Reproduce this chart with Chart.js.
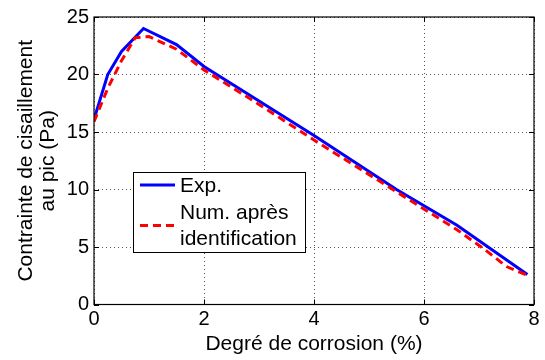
<!DOCTYPE html>
<html>
<head>
<meta charset="utf-8">
<script src="https://cdn.jsdelivr.net/npm/chart.js@4"></script>
<style>
  body { margin: 0; background: #fff; }
  #chart { display: block; }
</style>
</head>
<body>
<canvas id="chart" width="545" height="360"></canvas>
<script>
// values
const xExp = [0, 0.25, 0.5, 0.9, 1.5, 2, 3, 4, 5.5, 6.6, 7.88]
const yExp = [16.1, 20.0, 22.0, 24.0, 22.6, 20.7, 17.7, 14.7, 10.0, 6.9, 2.6]

const xNum = [0, 0.25, 0.5, 0.75, 1.0, 1.5, 2, 3, 4, 5.5, 6.6, 7.1, 7.5, 7.85]
const yNum = [15.9, 18.8, 21.2, 23.2, 23.3, 22.2, 20.4, 17.4, 14.3, 9.8, 6.5, 4.8, 3.3, 2.6]

const xTicks = [0, 2, 4, 6, 8]
const yTicks = [0, 5, 10, 15, 20, 25]

const labelExp = "Exp."
const labelNum = ["Num. après", "identification"]
const xTitle = "Degré de corrosion (%)"
const yTitle = ["Contrainte de cisaillement", "au pic (Pa)"]

const FONT = "'Liberation Sans', Arial, sans-serif"

function toPoints(xs, ys) {
    const pts = []
    for (let i = 0; i < xs.length; i++) {
        pts.push({ x: xs[i], y: ys[i] })
    }
    return pts
}

// box, inside ticks and legend like the matlab figure
const matlabFrame = {
    id: "matlabFrame",
    afterDatasetsDraw(chart) {
        const ctx = chart.ctx
        const a = chart.chartArea
        const xs = chart.scales.x
        const ys = chart.scales.y
        ctx.save()
        ctx.strokeStyle = "#000"
        ctx.lineWidth = 1
        ctx.setLineDash([])
        ctx.beginPath()
        for (let v of xTicks) {
            const px = Math.round(xs.getPixelForValue(v)) + 0.5
            ctx.moveTo(px, a.bottom); ctx.lineTo(px, a.bottom - 5)
            ctx.moveTo(px, a.top); ctx.lineTo(px, a.top + 5)
        }
        for (let v of yTicks) {
            const py = Math.round(ys.getPixelForValue(v)) + 0.5
            ctx.moveTo(a.left, py); ctx.lineTo(a.left + 5, py)
            ctx.moveTo(a.right, py); ctx.lineTo(a.right - 5, py)
        }
        ctx.stroke()
        ctx.lineWidth = 1.2
        ctx.strokeRect(a.left, a.top, a.right - a.left, a.bottom - a.top)
        ctx.restore()
    },
    afterDraw(chart) {
        const ctx = chart.ctx
        const ds = chart.data.datasets
        ctx.save()
        ctx.fillStyle = "#fff"
        ctx.fillRect(133, 172, 172, 80)
        ctx.strokeStyle = "#000"
        ctx.lineWidth = 1
        ctx.strokeRect(133.5, 172.5, 172, 80)

        ctx.lineWidth = ds[1].borderWidth
        ctx.strokeStyle = ds[1].borderColor
        ctx.beginPath(); ctx.moveTo(140, 185); ctx.lineTo(175, 185); ctx.stroke()

        ctx.lineWidth = ds[0].borderWidth
        ctx.strokeStyle = ds[0].borderColor
        ctx.setLineDash(ds[0].borderDash)
        ctx.beginPath(); ctx.moveTo(140, 225.5); ctx.lineTo(176, 225.5); ctx.stroke()
        ctx.setLineDash([])

        ctx.fillStyle = "#000"
        ctx.font = "21px " + FONT
        ctx.textBaseline = "middle"
        ctx.textAlign = "left"
        ctx.fillText(labelExp, 180, 186)
        ctx.fillText(labelNum[0], 180, 213)
        ctx.fillText(labelNum[1], 180, 239)
        ctx.restore()
    }
}

const config = {
    type: "line",
    data: {
        datasets: [
            {
                label: labelNum.join(" "),
                data: toPoints(xNum, yNum),
                borderColor: "#ff0000",
                borderWidth: 3,
                borderDash: [8, 5],
                pointRadius: 0,
                tension: 0,
                fill: false,
                order: 0
            },
            {
                label: labelExp,
                data: toPoints(xExp, yExp),
                borderColor: "#0000ff",
                borderWidth: 3,
                pointRadius: 0,
                tension: 0,
                fill: false,
                order: 1
            }
        ]
    },
    options: {
        responsive: false,
        animation: false,
        layout: { padding: { top: 14, right: 11, left: 0, bottom: 0 } },
        plugins: {
            legend: { display: false },
            tooltip: { enabled: false }
        },
        scales: {
            x: {
                type: "linear",
                min: 0,
                max: 8,
                afterBuildTicks(scale) { scale.ticks = xTicks.map(v => ({ value: v })) },
                afterFit(scale) { scale.height = 55.5 },
                grid: { color: "#555", lineWidth: 1, drawTicks: false },
                border: { display: false, dash: [1, 3] },
                ticks: {
                    color: "#000",
                    padding: 3,
                    font: { family: FONT, size: 20, lineHeight: 1.2 }
                },
                title: {
                    display: true,
                    text: xTitle,
                    color: "#000",
                    padding: { top: 0, bottom: 5 },
                    font: { family: FONT, size: 21, lineHeight: 1.05 }
                }
            },
            y: {
                type: "linear",
                min: 0,
                max: 25,
                afterBuildTicks(scale) { scale.ticks = yTicks.map(v => ({ value: v })) },
                afterFit(scale) { scale.width = 94 },
                grid: { color: "#555", lineWidth: 1, drawTicks: false },
                border: { display: false, dash: [1, 3] },
                ticks: {
                    color: "#000",
                    padding: 5,
                    font: { family: FONT, size: 20, lineHeight: 1.2 }
                },
                title: {
                    display: true,
                    text: yTitle,
                    color: "#000",
                    padding: { top: 15, bottom: 0 },
                    font: { family: FONT, size: 21, lineHeight: 1.05 }
                }
            }
        }
    },
    plugins: [matlabFrame]
}

new Chart(document.getElementById("chart"), config)
</script>
</body>
</html>
